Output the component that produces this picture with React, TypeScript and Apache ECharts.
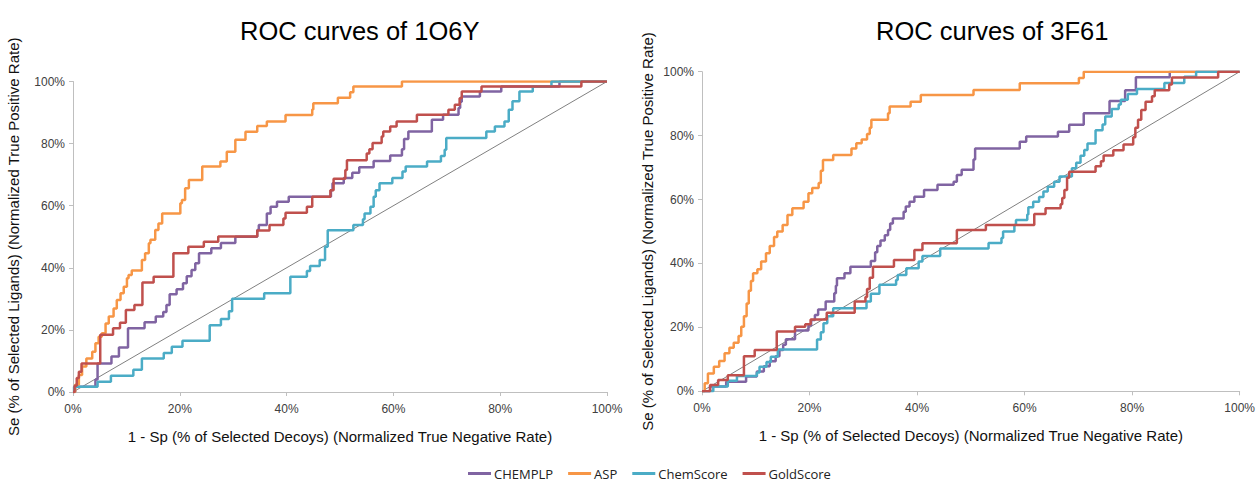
import React, { useEffect, useRef } from "react";
import * as echarts from "echarts";

type Pt = [number, number];

const seriesNames = ["CHEMPLP", "ASP", "ChemScore", "GoldScore"];
const seriesColors = ["#8064A2", "#F79646", "#4BACC6", "#C0504D"];
const chartTitles = ["ROC curves of 1O6Y", "ROC curves of 3F61"];
const xAxisName = "1 - Sp (% of Selected Decoys) (Normalized True Negative Rate)";
const yAxisName = "Se (% of Selected Ligands) (Normalized True Positive Rate)";
const diagonal: Pt[] = [[0, 0], [100, 100]];

// ---- 1O6Y (left) ----
const leftChemplp: Pt[] = [
  [0, 0], [0.4, 1.7], [4.2, 4], [4.6, 9.2], [7.2, 11.4], [8.6, 14.3], [10.3, 20.5], [13.4, 22.5],
  [15.5, 24.3], [16.9, 25.8], [17.5, 28], [18.1, 31.5], [19.4, 33.1], [20.6, 35], [21.3, 37.3],
  [22.2, 39.3], [22.9, 41.5], [23.6, 44.7], [25.9, 46.3], [27.7, 48], [30.4, 50], [34.5, 52.2],
  [34.8, 53.8], [36.3, 57.5], [37, 59.7], [38.2, 61.3], [40.4, 62.9], [48.3, 65], [48.6, 67.2],
  [50.7, 68.9], [52.3, 70.6], [53.6, 72.4], [56.3, 74.4], [59.4, 76.2], [61.6, 78.2], [62, 81.5],
  [62.8, 83.9], [67.2, 87.7], [69.3, 89.3], [72.2, 91.5], [72.5, 93.5], [72.8, 95.2], [76.2, 96.8],
  [80.2, 98.4], [91.1, 100], [100, 100],
];
const leftAsp: Pt[] = [
  [0, 0], [0.4, 2.3], [1.1, 5.5], [1.7, 8.2], [2.5, 10.8], [3.6, 13], [4.2, 15.7], [4.8, 17.8],
  [5.4, 18.9], [6.1, 22.1], [6.7, 24.3], [7.6, 26.9], [8.2, 29.6], [8.9, 31.8], [9.5, 33.9],
  [10.1, 36.6], [10.4, 37.7], [11, 39.1], [12.9, 42.5], [13.5, 44.7], [14.2, 47.9], [14.5, 49],
  [15.4, 52.2], [16, 54.3], [16.7, 57.5], [20.1, 60.8], [20.4, 61.8], [21, 65.6], [21.7, 68.3],
  [24.2, 72.6], [27.6, 74.2], [28.8, 77.4], [30.4, 81.2], [32.3, 83.8], [34.5, 85.7], [36.3, 87.1],
  [39.8, 89.2], [44.8, 91], [45, 93], [49.6, 94.8], [51.9, 96.5], [52.5, 98.4], [61.6, 100], [100, 100],
];
const leftChemScore: Pt[] = [
  [0, 0], [0.2, 1.7], [4.6, 3.3], [7.1, 5.2], [11.3, 7.2], [12.9, 10.8], [17, 12.6], [18.5, 14.6],
  [20.5, 16.5], [25.6, 21.5], [27.7, 23.5], [29.2, 26], [29.8, 30], [35.8, 31.8], [40.7, 37.1],
  [43.8, 39], [44.4, 40.6], [46.2, 42.5], [47.2, 46.8], [47.7, 52.1], [52.5, 53.8], [54.3, 55.6],
  [54.6, 57.5], [55.7, 59.7], [56.3, 62.9], [56.7, 65], [57.4, 67.2], [59.8, 68.9], [61.7, 71],
  [62.3, 72.6], [66.3, 74.2], [68.9, 76], [69.6, 78], [69.9, 81.8], [77.4, 83.9], [79, 85.5],
  [80.8, 87.1], [81.6, 90.9], [82.3, 93.6], [83.6, 96.8], [86.1, 98.4], [89.6, 100], [100, 100],
];
const leftGoldScore: Pt[] = [
  [0, 0], [0.3, 2], [0.7, 4.5], [1.1, 6.5], [1.6, 9.2], [5.1, 18.4], [7.5, 20.5], [8.8, 22.3],
  [9.9, 26.4], [11.5, 28], [13, 35.3], [15.1, 37.1], [18.8, 44.7], [21.6, 46.8], [24.5, 48.4],
  [27.2, 50.1], [34.5, 52], [36.8, 53.8], [39.4, 55.9], [39.8, 57.7], [43.8, 59.7], [44.8, 62.9],
  [48.2, 65], [48.8, 68.7], [51, 71.5], [51.3, 74.6], [55, 76.8], [55.5, 78.2], [56.1, 80.2],
  [57.8, 82.3], [58.1, 83.9], [59.4, 85.5], [60.6, 87.1], [64.4, 89.3], [70.3, 90.9], [71.5, 92.5],
  [72.4, 94.6], [72.8, 96.8], [76.5, 98.4], [95.2, 100], [100, 100],
];

// ---- 3F61 (right) ----
const rightChemplp: Pt[] = [
  [0, 0], [1.5, 1.5], [4.5, 3], [8.2, 4.6], [10.2, 6.2], [11.5, 7.8], [12.6, 9.4], [13.7, 11],
  [14.4, 12.9], [15.1, 14.6], [15.6, 16.3], [17.3, 19], [19.8, 20.6], [20.3, 22.3], [21, 23.9],
  [21.6, 25.6], [23, 28.1], [24.6, 30.7], [24.9, 33], [25.1, 35.4], [26.5, 36.9], [27.6, 39],
  [31.4, 40.8], [32.2, 43.5], [32.6, 45.5], [33.2, 47.2], [34, 48.8], [34.6, 50.5], [35, 52.5],
  [35.5, 54.1], [37.5, 56.2], [37.9, 57.8], [38.6, 59.3], [39.5, 60.9], [41.3, 63], [43.8, 64.6],
  [46.8, 65.6], [47.4, 67.7], [48.3, 69.3], [50.5, 72.5], [50.8, 76], [59.1, 78.1], [60.3, 79.7],
  [66.2, 81.2], [68.3, 83.4], [71, 87], [75.8, 90.8], [78.7, 94.2], [80.7, 98.3], [87, 100], [100, 100],
];
const rightAsp: Pt[] = [
  [0, 0], [0.5, 2.5], [1.1, 5.6], [2.2, 7.7], [3.2, 9.5], [4.2, 11.9], [5.1, 13.6], [5.9, 15.2],
  [6.8, 17.3], [7.3, 20.2], [7.8, 23.5], [8.3, 27.5], [8.7, 31.5], [9.1, 34.5], [9.5, 36.9],
  [10.3, 38.2], [11, 40.6], [11.9, 43.2], [12.6, 45.5], [13.4, 48.3], [14, 50], [15, 52],
  [15.9, 55.2], [16.8, 57.3], [18.9, 59.3], [19.8, 62], [20.5, 63.6], [21.7, 65.2], [22.1, 69],
  [22.5, 72.4], [24.4, 73.9], [27.8, 76], [28.7, 77.6], [29.7, 78.8], [30.7, 80.5], [31.2, 82.5],
  [31.5, 85], [34.6, 87], [34.9, 89.1], [38.8, 90.6], [40.7, 92.7], [50.5, 94.3], [59.1, 96.4],
  [70.1, 98], [71, 100], [100, 100],
];
const rightChemScore: Pt[] = [
  [0, 0], [2.1, 1.5], [4.8, 3.3], [6.5, 4.8], [10.2, 5.9], [10.7, 7.7], [12, 9.2], [12.8, 10.8],
  [14.1, 13.1], [21.4, 16.2], [22.1, 18.5], [22.6, 21.3], [23.3, 23.5], [24.4, 26], [30.6, 28.1],
  [31.4, 30.5], [33, 33.3], [36.1, 34.8], [36.4, 36.4], [38, 38.5], [40.3, 40.6], [41, 42.3],
  [44.3, 44.7], [53.3, 46.4], [55.7, 48], [56, 50], [58.1, 52], [58.4, 53.6], [60.5, 55.3],
  [60.7, 57.6], [61.6, 59.3], [62.7, 60.8], [63.5, 62.5], [64.3, 64], [65.5, 65.6], [66.5, 67.2],
  [68.8, 69.8], [69.6, 71.5], [70.4, 73.7], [71.1, 75.5], [71.7, 77.5], [73.2, 81.7], [74.5, 83.5],
  [75, 86], [76.2, 88.3], [77.5, 89.7], [77.9, 91.2], [79.2, 93], [80.9, 94.6], [86, 96.5],
  [89.7, 98.4], [91.9, 100], [100, 100],
];
const rightGoldScore: Pt[] = [
  [0, 0], [1.5, 2], [3, 3.5], [4.8, 5], [7.8, 11], [9.8, 12.9], [13.9, 18.7], [17.3, 20.2],
  [19.2, 21], [20.2, 22.5], [23.2, 24.6], [28.4, 28.1], [30.4, 29.5], [30.7, 32], [31.2, 35.5],
  [31.8, 39], [35.7, 41.1], [39.5, 44.2], [41, 46.3], [47.4, 50.5], [52.8, 52], [61.8, 55.5],
  [63.9, 57.3], [66.7, 58.5], [67, 60.5], [67.4, 63], [67.9, 66.8], [68.3, 68.7], [73.2, 70.4],
  [74.2, 72], [74.7, 73.8], [76.5, 75.4], [78.4, 77.2], [80.2, 79.5], [80.6, 82.5], [81.1, 85],
  [81.7, 88], [82.5, 90.6], [83.7, 92.3], [84.2, 94.2], [86.9, 96], [87.4, 98.2], [96, 100], [100, 100],
];

const leftData = [leftChemplp, leftAsp, leftChemScore, leftGoldScore];
const rightData = [rightChemplp, rightAsp, rightChemScore, rightGoldScore];

const labelFont = "'Liberation Sans Narrow', 'Arial Narrow', 'Liberation Sans', sans-serif";
const mainFont = "'Liberation Sans', Arial, sans-serif";

function makeAxes(idx: number, yGap: number) {
  const axisLine = { show: true, lineStyle: { color: "#bfbfbf", width: 1 } };
  const axisTick = { show: true, length: 4, lineStyle: { color: "#bfbfbf" } };
  const x = {
    type: "value", gridIndex: idx, min: 0, max: 100, interval: 20,
    axisLine, axisTick, splitLine: { show: false },
    axisLabel: { formatter: "{value}%", color: "#404040", fontSize: 12, fontFamily: labelFont, margin: 11 },
    name: xAxisName, nameLocation: "middle", nameGap: 37,
    nameTextStyle: { color: "#111", fontSize: 15, fontFamily: mainFont },
  };
  const y = {
    type: "value", gridIndex: idx, min: 0, max: 100, interval: 20,
    axisLine, axisTick, splitLine: { show: false },
    axisLabel: { formatter: "{value}%", color: "#404040", fontSize: 12, fontFamily: labelFont, margin: 8 },
    name: yAxisName, nameLocation: "middle", nameGap: yGap, nameRotate: 90,
    nameTextStyle: { color: "#111", fontSize: 15, fontFamily: mainFont },
  };
  return { x, y };
}

function makeSeries(idx: number, data: Pt[][]) {
  const out: any[] = [
    {
      type: "line", xAxisIndex: idx, yAxisIndex: idx, data: diagonal, symbol: "none",
      lineStyle: { color: "#808080", width: 1 }, silent: true, z: 1,
    },
  ];
  data.forEach((d, i) => {
    out.push({
      name: seriesNames[i], type: "line", xAxisIndex: idx, yAxisIndex: idx, data: d,
      step: "end", symbol: "none", color: seriesColors[i],
      lineStyle: { color: seriesColors[i], width: 2.5 }, z: 2 + i,
    });
  });
  return out;
}

export default function App() {
  const ref = useRef<HTMLDivElement>(null);
  useEffect(() => {
    if (!ref.current) return;
    const chart = echarts.init(ref.current, undefined, { renderer: "svg" });
    const a0 = makeAxes(0, 52);
    const a1 = makeAxes(1, 47);
    const titleStyle = { fontSize: 25.5, fontWeight: "normal", color: "#000", fontFamily: mainFont };
    chart.setOption({
      animation: false,
      backgroundColor: "#ffffff",
      title: [
        { text: chartTitles[0], left: 235, top: 13, textStyle: titleStyle },
        { text: chartTitles[1], left: 871, top: 13, textStyle: titleStyle },
      ],
      legend: {
        data: seriesNames, left: 468, top: 465, icon: "rect", itemWidth: 23, itemHeight: 3, itemGap: 15,
        padding: 0,
        textStyle: {
          fontSize: 13, lineHeight: 17, color: "#222",
          fontFamily: "'Open Sans', 'Liberation Sans', sans-serif", padding: [0, 0, 0, -2],
        },
      },
      grid: [
        { left: 73, right: 651, top: 81.5, bottom: 90 },
        { left: 702, right: 12, top: 71.7, bottom: 90.7 },
      ],
      xAxis: [a0.x, a1.x],
      yAxis: [a0.y, a1.y],
      series: [...makeSeries(0, leftData), ...makeSeries(1, rightData)],
    });
    return () => chart.dispose();
  }, []);
  return (
    <div
      ref={ref}
      style={{ position: "absolute", left: 0, top: 0, width: 1258, height: 482, background: "#fff" }}
    />
  );
}
